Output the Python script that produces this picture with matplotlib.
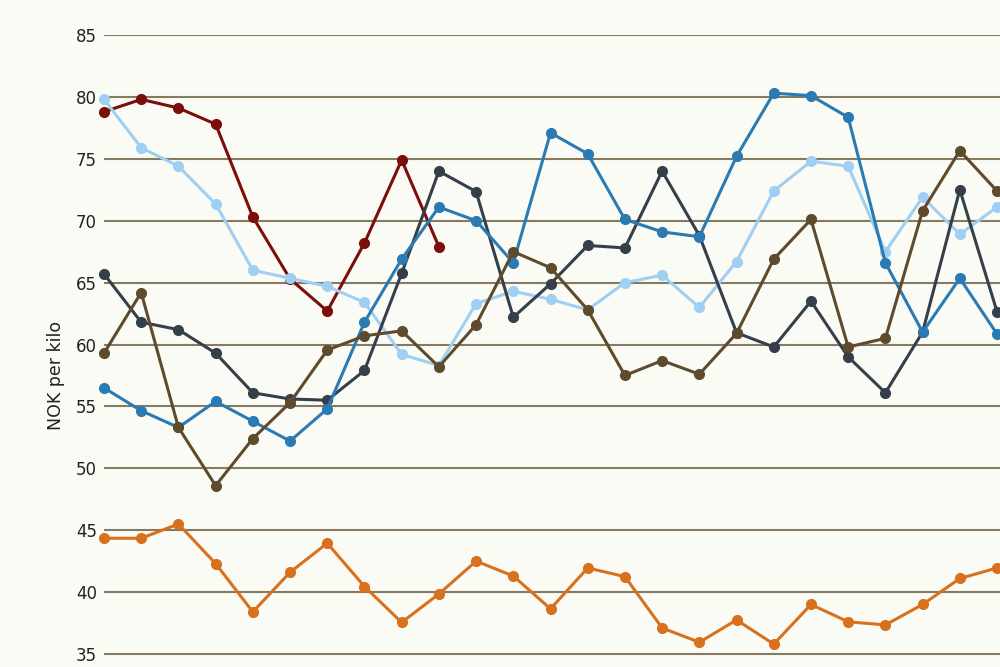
import matplotlib.pyplot as plt
import numpy as np

# values (NOK per kilo), one point per period
periods = list(range(25))

dark_red = [78.8, 79.8, 79.1, 77.8, 70.3, 65.3, 62.7, 68.2, 74.9, 67.9]
light_blue = [79.8, 75.9, 74.4, 71.35, 66.0, 65.35, 64.7, 63.4, 59.2, 58.3,
              63.3, 64.3, 63.65, 62.8, 65.0, 65.6, 63.0, 66.7, 72.4, 74.8,
              74.4, 67.5, 71.9, 68.9, 71.1]
dark_slate = [65.7, 61.8, 61.2, 59.3, 56.1, 55.6, 55.5, 57.9, 65.75, 74.0,
              72.35, 62.2, 64.9, 68.0, 67.8, 74.0, 68.8, 60.95, 59.8, 63.5,
              59.0, 56.1, 61.0, 72.5, 62.65]
mid_blue = [56.5, 54.65, 53.3, 55.4, 53.8, 52.2, 54.8, 61.8, 66.9, 71.1,
            70.0, 66.6, 77.1, 75.4, 70.1, 69.1, 68.7, 75.2, 80.3, 80.1,
            78.35, 66.6, 61.0, 65.35, 60.85]
brown = [59.3, 64.2, 53.3, 48.6, 52.4, 55.3, 59.55, 60.7, 61.1, 58.2,
         61.6, 67.5, 66.2, 62.8, 57.5, 58.7, 57.6, 60.9, 66.9, 70.1,
         59.8, 60.5, 70.8, 75.65, 72.4]
orange = [44.35, 44.35, 45.5, 42.3, 38.4, 41.6, 43.95, 40.45, 37.55, 39.85,
          42.5, 41.3, 38.65, 41.95, 41.25, 37.1, 35.95, 37.75, 35.8, 39.0,
          37.6, 37.35, 39.0, 41.1, 41.95]

yticks = [35, 40, 45, 50, 55, 60, 65, 70, 75, 80, 85]

bg = "#fbfbf5"
fig = plt.figure(figsize=(10, 6.67), dpi=100, facecolor=bg)
ax = fig.add_axes([0.104, 0.0, 0.896, 632 / 667])
ax.set_facecolor(bg)

# draw order: bottom to top
series = [
    (dark_red, "#7b0d0b"),
    (light_blue, "#9fcff2"),
    (dark_slate, "#353f49"),
    (mid_blue, "#2a7ab3"),
    (brown, "#5e4b2e"),
    (orange, "#d8701e"),
]
for vals, col in series:
    ax.plot(periods[:len(vals)], vals, color=col, lw=2.2, marker="o",
            markersize=7, clip_on=False, solid_joinstyle="round")

ax.set_xlim(0, 24.08)
ax.set_ylim(85 - 632 / 12.38, 85)
ax.set_yticks(yticks)
ax.set_xticks([])
ax.grid(axis="y", color="#857b62", lw=1.5)
ax.set_axisbelow(True)
for s in ax.spines.values():
    s.set_visible(False)
ax.tick_params(axis="y", length=0, pad=5, labelsize=12, labelcolor="#222222")

fig.text(0.056, 1 - 375 / 667, "NOK per kilo", rotation=90, ha="center",
         va="center", fontsize=12.5, color="#222222")

plt.savefig("out.png", dpi=100, facecolor=bg)
